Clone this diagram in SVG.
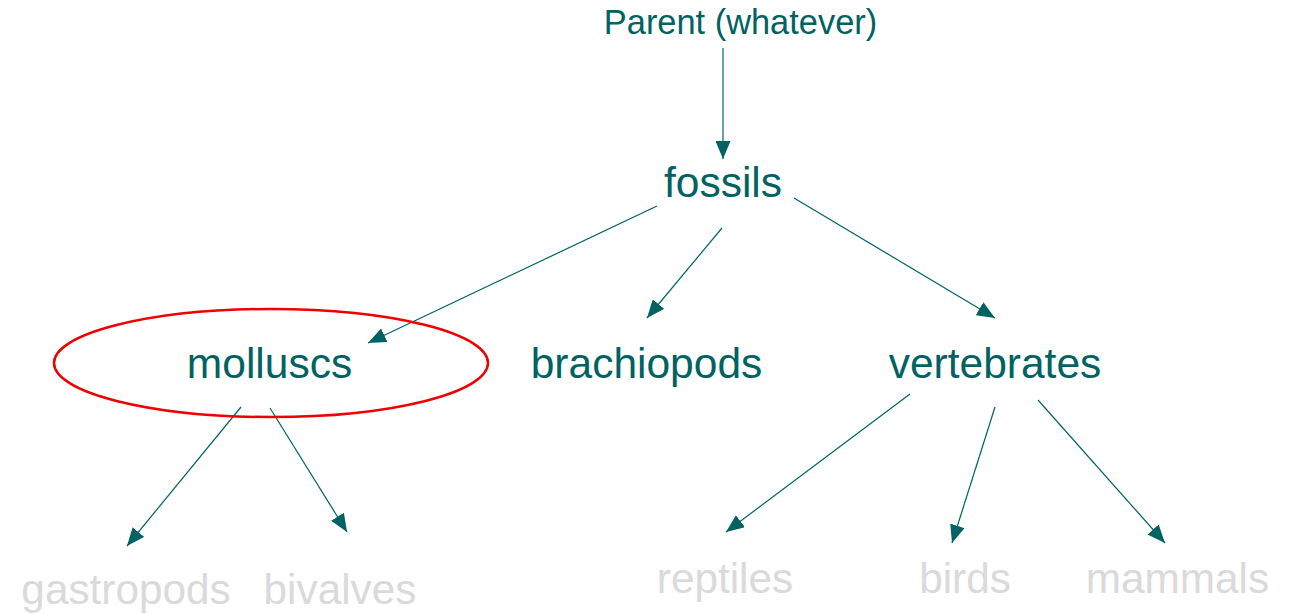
<svg xmlns="http://www.w3.org/2000/svg" width="1289" height="614" viewBox="0 0 1289 614">
<style>
.t{font-family:"Liberation Sans",Arial,sans-serif;fill:#006262;text-anchor:middle;font-size:42.5px}
.g{font-family:"Liberation Sans",Arial,sans-serif;fill:#dadada;text-anchor:middle;font-size:42.3px}
.c{stroke:#006262;stroke-width:1.2;fill:none;marker-end:url(#ah)}
</style>
<defs>
<marker id="ah" markerUnits="userSpaceOnUse" markerWidth="19" markerHeight="15" viewBox="0 0 19 15" refX="18" refY="7.5" orient="auto">
<path d="M0,0 L18,7.5 L0,15 Z" fill="#006262"/>
</marker>
</defs>
<rect width="1289" height="614" fill="#ffffff"/>
<g id="connectors">
<line class="c" x1="723" y1="48" x2="723" y2="159"/>
<line class="c" x1="657" y1="206" x2="368" y2="343"/>
<line class="c" x1="722" y1="228" x2="647" y2="318"/>
<line class="c" x1="794" y1="198" x2="995" y2="318"/>
<line class="c" x1="241" y1="407" x2="127" y2="546"/>
<line class="c" x1="270" y1="408" x2="347" y2="532"/>
<line class="c" x1="910" y1="394" x2="726" y2="532"/>
<line class="c" x1="995" y1="407" x2="952" y2="543"/>
<line class="c" x1="1038" y1="400" x2="1165" y2="543"/>
</g>
<g id="parent"><text class="t" x="740.5" y="34" style="font-size:34.4px">Parent (whatever)</text></g>
<g id="fossils"><text class="t" x="723" y="197">fossils</text></g>
<g id="molluscs">
<ellipse cx="271" cy="363" rx="217" ry="54" fill="none" stroke="#ee0000" stroke-width="2.5"/>
<text class="t" x="269.5" y="378">molluscs</text>
</g>
<g id="brachiopods"><text class="t" x="646.5" y="378">brachiopods</text></g>
<g id="vertebrates"><text class="t" x="995" y="378">vertebrates</text></g>
<g id="gastropods"><text class="g" x="126" y="604">gastropods</text></g>
<g id="bivalves"><text class="g" x="340" y="604">bivalves</text></g>
<g id="reptiles"><text class="g" x="725" y="593">reptiles</text></g>
<g id="birds"><text class="g" x="965" y="593">birds</text></g>
<g id="mammals"><text class="g" x="1177.5" y="593">mammals</text></g>
</svg>
